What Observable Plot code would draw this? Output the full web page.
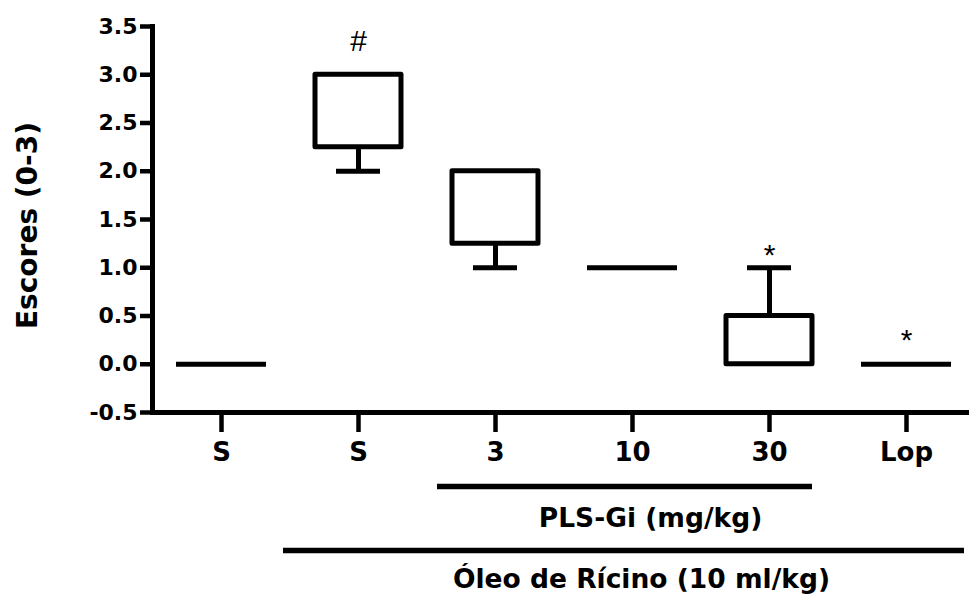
<!DOCTYPE html>
<html><head><meta charset="utf-8">
<script src="https://cdn.jsdelivr.net/npm/d3@7"></script>
<script src="https://cdn.jsdelivr.net/npm/@observablehq/plot@0.6"></script>
<style>
html,body{margin:0;padding:0;background:#fff;}
#chart{width:969px;height:597px;}
</style>
</head><body><div id="chart"></div>
<script>
// ---- data ----
const groupIds = ["salina", "oleo", "pls3", "pls10", "pls30", "lop"];
const tickLabels = ["S", "S", "3", "10", "30", "Lop"];
const q1 = [0, 2.25, 1.25, 1, 0, 0];
const q3 = [0, 3, 2, 1, 0.5, 0];
const minV = [0, 2, 1, 1, 0, 0];
const maxV = [0, 3, 2, 1, 1, 0];
const signif = ["", "#", "", "", "*", "*"];
const yTicks = [-0.5, 0, 0.5, 1, 1.5, 2, 2.5, 3, 3.5];
const yDomain = [-0.5, 3.5];
const yTitle = "Escores (0-3)";
const groupLabels = ["PLS-Gi (mg/kg)", "Óleo de Rícino (10 ml/kg)"];
const groupFrom = ["pls3", "oleo"];
const groupTo = ["pls30", "lop"];
const groupCenter = ["pls10", "pls10"];

const rows = groupIds.map((id, i) => ({id, label: tickLabels[i], q1: q1[i], q3: q3[i], min: minV[i], max: maxV[i], sig: signif[i]}));
const boxes = rows.filter(d => d.q3 > d.q1);
const flats = rows.filter(d => d.q3 === d.q1);
const lowW = rows.filter(d => d.min < d.q1);
const highW = rows.filter(d => d.max > d.q3);
const groups = groupLabels.map((label, i) => ({label, from: groupFrom[i], to: groupTo[i], center: groupCenter[i]}));

const bold = {fontFamily: "DejaVu Sans", fontWeight: "bold"};
const lw = 5;
const sigStyle = {fontSize: 30, fontFamily: "Liberation Sans", fontWeight: "normal"};

const chart = Plot.plot({
  width: 969,
  height: 597,
  marginLeft: 152,
  marginRight: 0,
  marginTop: 26,
  marginBottom: 185,
  x: {type: "band", domain: groupIds, paddingInner: 0.375, paddingOuter: 0.154, align: 0.57, axis: null},
  y: {domain: yDomain, axis: null},
  marks: [
    // axes
    Plot.axisY({ticks: yTicks, tickFormat: d => d.toFixed(1), tickSize: 12, tickPadding: 3, strokeWidth: 4.5, fontSize: 22, label: null, ...bold}),
    Plot.axisX({tickSize: 20, tickPadding: 10, strokeWidth: 4.5, fontSize: 26, label: null, tickFormat: d => tickLabels[groupIds.indexOf(d)], ...bold}),
    Plot.frame({anchor: "left", strokeWidth: lw}),
    Plot.ruleY([yDomain[0]], {strokeWidth: lw}),
    // whiskers
    Plot.ruleX(lowW, {x: "id", y1: "min", y2: "q1", strokeWidth: lw}),
    Plot.ruleX(highW, {x: "id", y1: "q3", y2: "max", strokeWidth: lw}),
    Plot.tickY(lowW, {x: "id", y: "min", strokeWidth: lw, insetLeft: 21, insetRight: 21}),
    Plot.tickY(highW, {x: "id", y: "max", strokeWidth: lw, insetLeft: 21, insetRight: 21}),
    // boxes
    Plot.barY(boxes, {x: "id", y1: "q1", y2: "q3", fill: "white", stroke: "black", strokeWidth: lw, strokeLinejoin: "round"}),
    Plot.tickY(flats, {x: "id", y: "q1", strokeWidth: lw, insetLeft: -2, insetRight: -2}),
    // significance marks
    Plot.text(rows.filter(d => d.sig === "#"), {x: "id", y: "max", text: "sig", dy: -33, ...sigStyle}),
    Plot.text(rows.filter(d => d.sig === "*" && d.max > d.q3), {x: "id", y: "max", text: "sig", dy: -12, ...sigStyle}),
    Plot.text(rows.filter(d => d.sig === "*" && d.max === d.q3), {x: "id", y: "max", text: "sig", dy: -24, ...sigStyle}),
    // y title
    Plot.text([yTitle], {frameAnchor: "left", textAnchor: "middle", rotate: -90, dx: -124, dy: 6, fontSize: 28, ...bold}),
    // group bars and labels
    Plot.ruleY(groups.slice(0, 1), {x1: "from", x2: "to", y: () => yDomain[0], dy: 74, strokeWidth: 5.5, insetLeft: -15}),
    Plot.text(groups.slice(0, 1), {x: "center", y: () => yDomain[0], text: "label", dx: 18, dy: 106, fontSize: 26.5, ...bold}),
    Plot.ruleY(groups.slice(1, 2), {x1: "from", x2: "to", y: () => yDomain[0], dy: 138, strokeWidth: 5.5, insetLeft: -32, insetRight: -15}),
    Plot.text(groups.slice(1, 2), {x: "center", y: () => yDomain[0], text: "label", dx: 9, dy: 167, fontSize: 26.5, ...bold})
  ]
});
document.getElementById("chart").appendChild(chart);
</script>
</body></html>
